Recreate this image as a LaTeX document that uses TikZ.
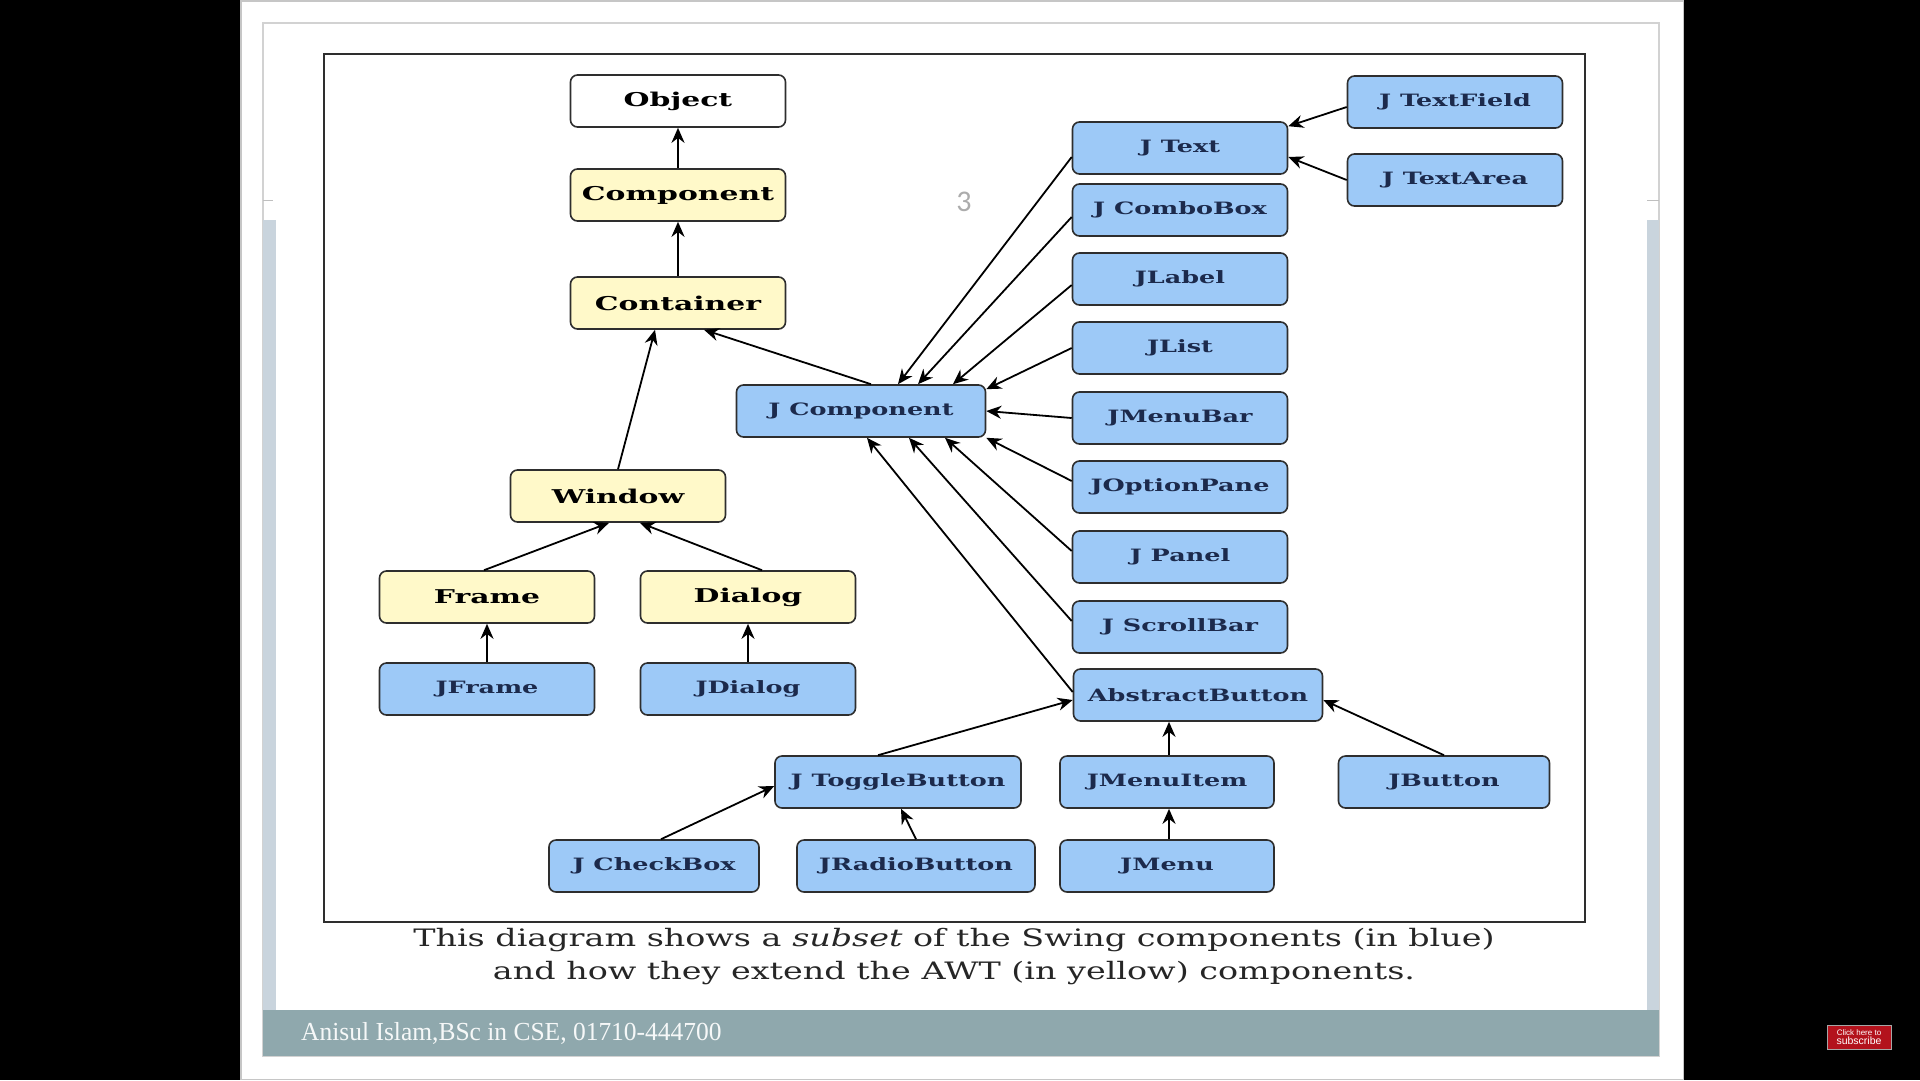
\documentclass[tikz,border=0pt]{standalone}
\usepackage{fontspec}
\setmainfont{DejaVu Serif}
\newfontfamily\footfont{Liberation Serif}
\newfontfamily\numfont{Carlito}
\newfontfamily\btnfont{Liberation Sans}
\usetikzlibrary{arrows.meta,calc}

\definecolor{awt}{HTML}{FFF9C9}
\definecolor{swing}{HTML}{9DC9F7}
\definecolor{navy}{HTML}{1C2A4C}
\definecolor{edgec}{HTML}{2E2E2E}
\definecolor{barc}{HTML}{8FA8AD}
\definecolor{stripc}{HTML}{C9D4DD}
\definecolor{subred}{HTML}{B3121C}

\newcommand{\wlab}[1]{\scalebox{1.5}[1]{#1}}
\newcommand{\wawt}[1]{\scalebox{1.57}[1]{#1}}
\newcommand{\wcap}[1]{\scalebox{1.39}[1]{#1}}

\begin{document}
\begin{tikzpicture}[x=1pt,y=-1pt,
 box/.style={draw=edgec, line width=1.6pt, rounded corners=7pt, minimum height=52pt, inner sep=0pt},
 awtbox/.style={box, fill=awt, text=black, minimum width=215pt, font=\fontsize{19}{22}\selectfont\bfseries},
 objbox/.style={awtbox, fill=white},
 swbox/.style={box, fill=swing, text=navy, minimum width=215pt, font=\fontsize{17}{20}\selectfont\bfseries},
 arr/.style={-{Stealth[length=15pt,width=13pt]}, line width=1.8pt, draw=black},
 varr/.style={arr, line width=2.4pt},
]
% background
\useasboundingbox (0,0) rectangle (1920,1080);
\fill[black] (0,0) rectangle (1920,1080);
\fill[white] (240,0) rectangle (1684,1080);
\draw[gray!45, line width=1.5pt] (240.75,0.75) rectangle (1683.25,1079.25);
\draw[gray!35, line width=1.2pt] (263,23) rectangle (1659,1056);
\fill[stripc] (263,220) rectangle (276,1010);
\fill[stripc] (1647,220) rectangle (1659,1010);
\draw[gray!50, line width=1pt] (263,200) -- (273,200);
\draw[gray!50, line width=1pt] (1647,200) -- (1659,200);
\fill[barc] (263,1010) rectangle (1659,1056);
\node[anchor=west, text=white!92!barc, font=\footfont\fontsize{26}{28}\selectfont, inner sep=0pt] (foot) at (301,1033) {\scalebox{0.98}[1]{Anisul Islam,BSc in CSE, 01710-444700}};
\node[text=gray!65, font=\numfont\fontsize{30}{30}\selectfont] (pg) at (964,202) {3};
\node[fill=subred, draw=gray!70, line width=1pt, minimum width=64pt, minimum height=24pt, inner sep=0pt, align=center, text=white, font=\btnfont\fontsize{8}{8.5}\selectfont] (sub) at (1859,1037) {Click here to\\{\fontsize{10.5}{10.5}\selectfont subscribe}};

% diagram frame
\draw[edgec, line width=2.4pt] (324,54) rectangle (1585,922);

% caption
\node[align=center, text=black!85, font=\fontsize{24}{33}\selectfont] (cap) at (954,957) {\wcap{This diagram shows a \textit{subset} of the Swing components (in blue)}\\\wcap{and how they extend the AWT (in yellow) components.}};

% AWT nodes
\node[objbox] (obj) at (678,101) {\wawt{Object}};
\node[awtbox] (comp) at (678,195) {\wawt{Component}};
\node[awtbox] (cont) at (678,303) {\wawt{Container}};
\node[awtbox] (win) at (618,496) {\wawt{Window}};
\node[awtbox] (frame) at (487,597) {\wawt{Frame}};
\node[awtbox] (dialog) at (748,597) {\wawt{Dialog}};

% Swing nodes
\node[swbox] (jframe) at (487,689) {\wlab{JFrame}};
\node[swbox] (jdialog) at (748,689) {\wlab{JDialog}};
\node[swbox, minimum width=249pt] (jcomp) at (861,411) {\wlab{J Component}};
\node[swbox] (jtext) at (1180,148) {\wlab{J Text}};
\node[swbox] (jcombo) at (1180,210) {\wlab{J ComboBox}};
\node[swbox] (jlabel) at (1180,279) {\wlab{JLabel}};
\node[swbox] (jlist) at (1180,348) {\wlab{JList}};
\node[swbox] (jmbar) at (1180,418) {\wlab{JMenuBar}};
\node[swbox] (jopt) at (1180,487) {\wlab{JOptionPane}};
\node[swbox] (jpanel) at (1180,557) {\wlab{J Panel}};
\node[swbox] (jscroll) at (1180,627) {\wlab{J ScrollBar}};
\node[swbox, minimum width=249pt] (abs) at (1198,695) {\wlab{AbstractButton}};
\node[swbox] (jtf) at (1455,102) {\wlab{J TextField}};
\node[swbox] (jta) at (1455,180) {\wlab{J TextArea}};
\node[swbox, minimum width=246pt] (jtog) at (898,782) {\wlab{J ToggleButton}};
\node[swbox, minimum width=214pt] (jmi) at (1167,782) {\wlab{JMenuItem}};
\node[swbox, minimum width=211pt] (jbtn) at (1444,782) {\wlab{JButton}};
\node[swbox, minimum width=210pt] (jcheck) at (654,866) {\wlab{J CheckBox}};
\node[swbox, minimum width=238pt] (jradio) at (916,866) {\wlab{JRadioButton}};
\node[swbox, minimum width=214pt] (jmenu) at (1167,866) {\wlab{JMenu}};

% connectors
\draw[varr] (comp) -- (obj);
\draw[varr] (cont) -- (comp);
\draw[arr] (win.north) -- ([xshift=-23pt]cont.south);
\draw[arr] ([xshift=10pt]jcomp.north) -- ([xshift=26pt]cont.south);
\draw[arr] ([xshift=-3pt]frame.north) -- ([xshift=-9pt]win.south);
\draw[arr] ([xshift=14pt]dialog.north) -- ([xshift=22pt]win.south);
\draw[varr] (jframe) -- (frame);
\draw[varr] (jdialog) -- (dialog);
\draw[arr] ([yshift=-9pt]jtext.west) -- ([xshift=37pt]jcomp.north);
\draw[arr] ([yshift=-7pt]jcombo.west) -- ([xshift=57pt]jcomp.north);
\draw[arr] ([yshift=-6pt]jlabel.west) -- ([xshift=92pt]jcomp.north);
\draw[arr] (jlist.west) -- ([yshift=-5pt]jcomp.north east);
\draw[arr] (jmbar.west) -- (jcomp.east);
\draw[arr] ([yshift=6pt]jopt.west) -- (jcomp.south east);
\draw[arr] ([yshift=6pt]jpanel.west) -- ([xshift=84pt]jcomp.south);
\draw[arr] ([yshift=6pt]jscroll.west) -- ([xshift=48pt]jcomp.south);
\draw[arr] ([yshift=3pt]abs.west) -- ([xshift=6pt]jcomp.south);
\draw[arr] ([yshift=-5pt]jtf.west) -- ([yshift=-5pt]jtext.north east);
\draw[arr] (jta.west) -- ([yshift=-9pt]jtext.east);
\draw[arr] ([xshift=-20pt]jtog.north) -- ([yshift=-5pt]abs.west);
\draw[varr] ([xshift=2pt]jmi.north) -- ([xshift=2pt]jmi.north |- abs.south);
\draw[arr] (jbtn.north) -- ([yshift=-5pt]abs.east);
\draw[arr] ([xshift=7pt]jcheck.north) -- ([yshift=-4pt]jtog.west);
\draw[arr] (jradio.north) -- ([xshift=3pt]jtog.south);
\draw[varr] ([xshift=2pt]jmenu.north) -- ([xshift=2pt]jmi.south);
\end{tikzpicture}
\end{document}
